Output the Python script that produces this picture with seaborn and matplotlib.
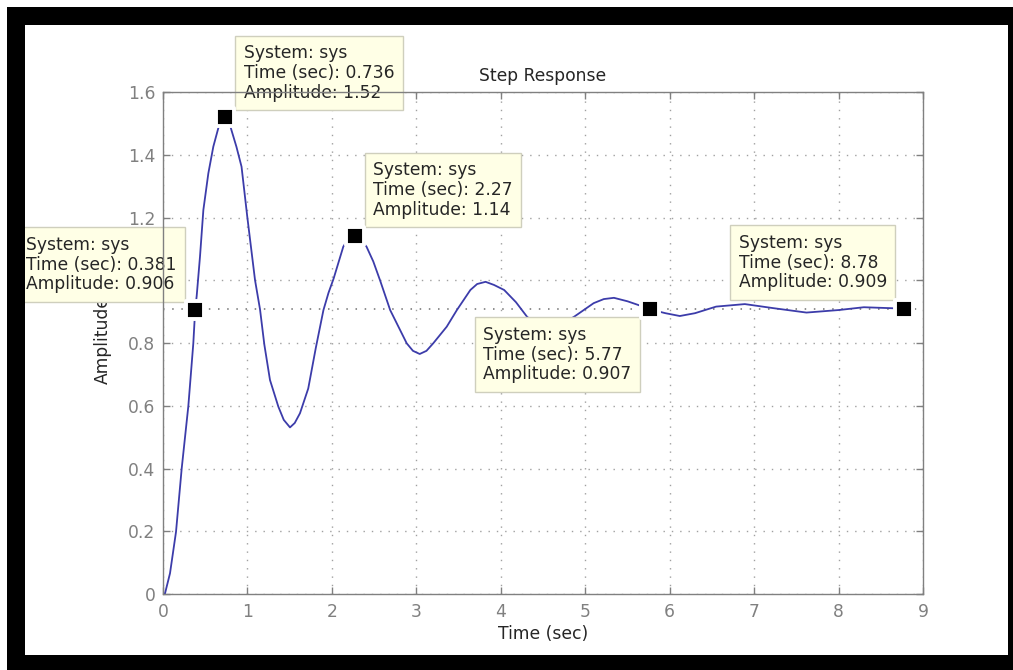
import numpy as np
import pandas as pd
import matplotlib
matplotlib.use("Agg")
import matplotlib.pyplot as plt
from matplotlib.patches import Rectangle
import seaborn as sns

# step response
time_sec = [0.0, 0.024, 0.083, 0.154, 0.221, 0.30, 0.359, 0.381, 0.399, 0.438,
            0.478, 0.537, 0.596, 0.655, 0.70, 0.736, 0.775, 0.81, 0.87, 0.93,
            0.999, 1.09, 1.149, 1.20, 1.267, 1.366, 1.43, 1.504, 1.56, 1.622,
            1.72, 1.81, 1.90, 1.96, 2.02, 2.135, 2.20, 2.27, 2.33, 2.41,
            2.49, 2.57, 2.69, 2.886, 2.96, 3.04, 3.12, 3.20, 3.36, 3.48,
            3.64, 3.72, 3.82, 3.92, 4.04, 4.18, 4.31, 4.45, 4.58, 4.72,
            4.87, 5.10, 5.22, 5.34, 5.50, 5.63, 5.77, 5.95, 6.12, 6.30,
            6.55, 6.89, 7.23, 7.62, 8.00, 8.30, 8.62, 8.78]
amplitude = [0.0, 0.002, 0.066, 0.198, 0.399, 0.599, 0.799, 0.906, 0.95, 1.075,
             1.224, 1.341, 1.426, 1.485, 1.510, 1.52, 1.511, 1.479, 1.425, 1.362,
             1.2, 1.0, 0.907, 0.795, 0.682, 0.597, 0.555, 0.531, 0.545, 0.576,
             0.655, 0.785, 0.905, 0.96, 1.005, 1.107, 1.135, 1.14, 1.133, 1.107,
             1.06, 1.0, 0.905, 0.799, 0.775, 0.765, 0.775, 0.799, 0.852, 0.905,
             0.969, 0.988, 0.995, 0.985, 0.969, 0.93, 0.884, 0.852, 0.845, 0.86,
             0.884, 0.927, 0.94, 0.944, 0.933, 0.921, 0.907, 0.895, 0.886, 0.895,
             0.916, 0.924, 0.911, 0.897, 0.905, 0.914, 0.911, 0.909]
final_value = 0.909

# data tips
tip_time = [0.381, 0.736, 2.27, 5.77, 8.78]
tip_amp = [0.906, 1.52, 1.14, 0.907, 0.909]
tip_time_txt = ["0.381", "0.736", "2.27", "5.77", "8.78"]
tip_amp_txt = ["0.906", "1.52", "1.14", "0.907", "0.909"]
# (dx, dy, ha, va) in pixels from the marker
tip_place = [(-18.5, 16.5, "right", "bottom"),
             (18.5, 15.5, "left", "bottom"),
             (18.5, 17.5, "left", "bottom"),
             (-18.5, -16.5, "right", "top"),
             (-17.5, 17.5, "right", "bottom")]

x_ticks = list(range(0, 10))
y_ticks = [0, 0.2, 0.4, 0.6, 0.8, 1, 1.2, 1.4, 1.6]
y_tick_labels = ["0", "0.2", "0.4", "0.6", "0.8", "1", "1.2", "1.4", "1.6"]

df = pd.DataFrame({"t": time_sec, "amp": amplitude})
tips = pd.DataFrame({"t": tip_time, "amp": tip_amp})

sns.set_style("ticks")
plt.rcParams["font.family"] = ["DejaVu Sans"]
FS = 12.3
GRAY = "#808080"

fig = plt.figure(figsize=(10.13, 6.70), dpi=100)
ax = fig.add_axes([163 / 1013, 76 / 670, 760 / 1013, 502 / 670])

ax.set_axisbelow(True)
ax.grid(True, linestyle=(0, (1, 5)), color="#a0a0a0", linewidth=1)
ax.axhline(final_value, linestyle=(0, (1, 5)), color="#707070", linewidth=1.1, zorder=1)

sns.lineplot(data=df, x="t", y="amp", sort=False, estimator=None, ax=ax,
             color="#3c3caa", linewidth=1.3, zorder=1.5)
sns.scatterplot(data=tips, x="t", y="amp", ax=ax, marker="s", s=13.5 ** 2,
                color="black", edgecolor="white", linewidth=2.8, zorder=3)

for t, a, tt, at, (dx, dy, ha, va) in zip(tip_time, tip_amp, tip_time_txt,
                                           tip_amp_txt, tip_place):
    ax.annotate(f"System: sys\nTime (sec): {tt}\nAmplitude: {at}",
                xy=(t, a), xytext=(dx, dy), textcoords="offset pixels",
                ha=ha, va=va, multialignment="left", fontsize=FS,
                color="#262626", linespacing=1.12,
                annotation_clip=False, zorder=2.2,
                bbox=dict(boxstyle="square,pad=0.5", facecolor="#ffffe6",
                          edgecolor="#cfcfbd", linewidth=1))

ax.set_xlim(0, 9)
ax.set_ylim(0, 1.6)
ax.set_xticks(x_ticks)
ax.set_yticks(y_ticks)
ax.set_yticklabels(y_tick_labels)
ax.tick_params(direction="in", length=5, width=1, color=GRAY, labelcolor=GRAY,
               labelsize=FS, top=True, right=True)
ax.tick_params(axis="x", pad=6.5)
ax.tick_params(axis="y", pad=5.5)
for sp in ax.spines.values():
    sp.set_visible(True)
    sp.set_color(GRAY)
    sp.set_linewidth(1)
    sp.set_zorder(2.5)

ax.set_title("Step Response", fontsize=FS, color="#262626", pad=8)
ax.set_xlabel("Time (sec)", fontsize=FS, color="#262626")
ax.set_ylabel("Amplitude", fontsize=FS, color="#262626")
ax.xaxis.set_label_coords(0.5, -0.062)
ax.yaxis.set_label_coords(-0.067, 0.506)

# black frame of the screenshot
W, H = 1013, 670
for x0, y0, w, h in [(7, H - 25, W - 7, 18), (7, 0, 18, H - 7),
                     (1008, 0, 5, H - 7), (7, 0, W - 7, 15)]:
    fig.patches.append(Rectangle((x0 / W, y0 / H), w / W, h / H,
                                 transform=fig.transFigure, facecolor="black",
                                 edgecolor="none", zorder=10))

fig.savefig("out.png", dpi=100)
